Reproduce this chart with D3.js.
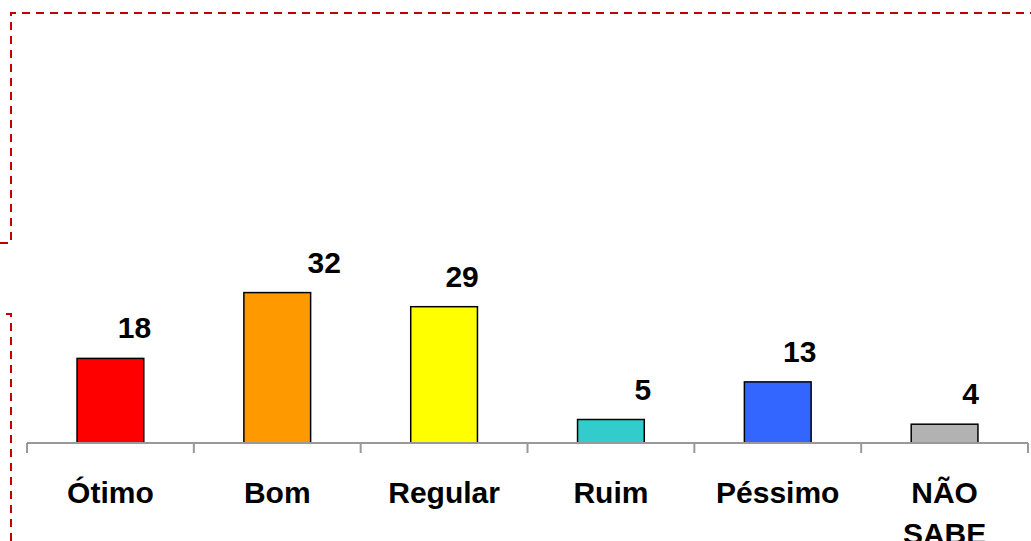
<!DOCTYPE html>
<html lang="pt">
<head>
<meta charset="UTF-8">
<title>Avaliação</title>
<script src="https://d3js.org/d3.v7.min.js"></script>
<style>
    body { margin: 0; background: #fff; overflow: hidden; }
    text { font-family: "Liberation Sans", Arial, sans-serif; font-weight: bold; fill: #000; }
</style>
</head>
<body>
<script>
// Data
const categories = ["Ótimo", "Bom", "Regular", "Ruim", "Péssimo", "NÃO SABE"];
const values = [18, 32, 29, 5, 13, 4];
const barColors = ["#ff0000", "#ff9900", "#ffff00", "#33cccc", "#3366ff", "#b2b2b2"];
// labels were dragged around a bit in the original
const labelShift = [24, 47, 18, 32, 22, 26];

const width = 1031, height = 541;

const svg = d3.select("body").append("svg")
    .attr("width", width)
    .attr("height", height);

// dashed frame around the slide area
const frame = svg.append("g")
    .attr("fill", "none")
    .attr("stroke", "#c00000")
    .attr("stroke-width", 2)
    .attr("stroke-dasharray", "8,6");
frame.append("path").attr("d", "M0,243 H11 V13 H1031");
frame.append("path").attr("d", "M6,314 H11 V541");

// scales
const x = d3.scaleBand().domain(categories).range([27, 1028]).paddingInner(0).paddingOuter(0);
const y = d3.scaleLinear().domain([0, 40]).range([443, 255]);
const barW = x.bandwidth() * 0.4;

// bars
svg.selectAll("rect.bar")
    .data(values)
    .join("rect")
    .attr("class", "bar")
    .attr("x", (d, i) => x(categories[i]) + (x.bandwidth() - barW) / 2)
    .attr("y", d => y(d))
    .attr("width", barW)
    .attr("height", d => y(0) - y(d))
    .attr("fill", (d, i) => barColors[i])
    .attr("stroke", "#000")
    .attr("stroke-width", 1.5);

// axis line and ticks
const axis = svg.append("g").attr("transform", `translate(0,${y(0)})`)
    .call(d3.axisBottom(x).tickSize(0).tickFormat(""));
axis.select(".domain").attr("stroke", "#999").attr("stroke-width", 2).attr("d", `M${x.range()[0]},0H${x.range()[1]}`);
const tickPos = categories.map(c => x(c)).concat([x.range()[1]]);
axis.selectAll("line.sep")
    .data(tickPos)
    .join("line")
    .attr("class", "sep")
    .attr("x1", d => d).attr("x2", d => d)
    .attr("y1", 0).attr("y2", 10)
    .attr("stroke", "#999")
    .attr("stroke-width", 2);

// category labels
svg.selectAll("text.cat")
    .data(categories)
    .join("text")
    .attr("class", "cat")
    .attr("text-anchor", "middle")
    .attr("font-size", 30)
    .attr("transform", d => `translate(${x(d) + x.bandwidth() / 2},503)`)
    .each(function (d) {
        const words = d === "NÃO SABE" ? ["NÃO", "SABE"] : [d];
        d3.select(this).selectAll("tspan")
            .data(words)
            .join("tspan")
            .attr("x", 0)
            .attr("dy", (w, j) => j === 0 ? 0 : 41)
            .text(w => w);
    });

// value labels
svg.selectAll("text.val")
    .data(values)
    .join("text")
    .attr("class", "val")
    .attr("text-anchor", "middle")
    .attr("font-size", 30)
    .attr("x", (d, i) => x(categories[i]) + x.bandwidth() / 2 + labelShift[i])
    .attr("y", d => y(d) - 20)
    .text(d => d);
</script>
</body>
</html>
